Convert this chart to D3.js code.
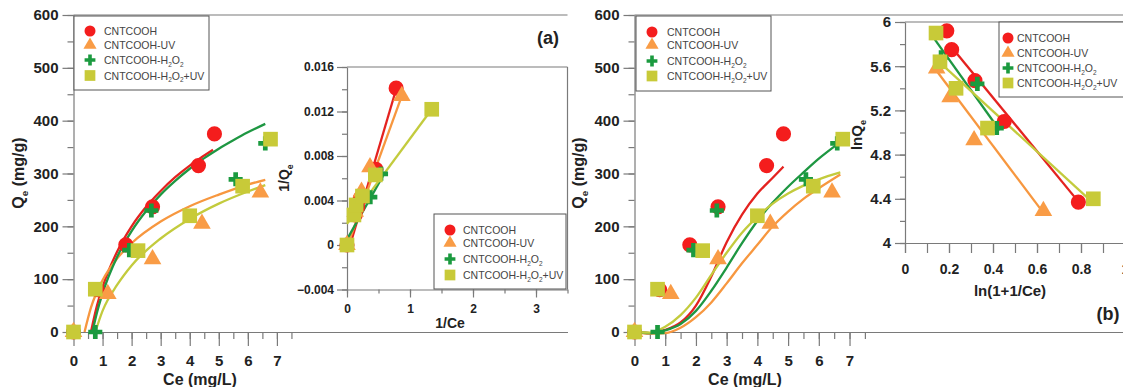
<!DOCTYPE html>
<html>
<head>
<meta charset="utf-8">
<script src="https://cdn.jsdelivr.net/npm/d3@7"></script>
<style>
  body { margin: 0; background: #fff; }
  text { font-family: "Liberation Sans", Arial, sans-serif; }
</style>
</head>
<body>
<svg></svg>
<script>
width = 1123;
height = 387;

// measured isotherm points, Ce (mg/L) / Qe (mg/g)
ceCOOH = [0, 0.82, 1.8, 2.72, 4.3, 4.85];
qeCOOH = [0, 80, 165, 237, 315, 375];
ceUV = [0, 1.18, 2.72, 4.42, 6.43];
qeUV = [0, 72, 138, 205, 264];
ceH2O2 = [0, 0.75, 1.92, 2.68, 5.58, 6.6];
qeH2O2 = [0, 0, 155, 230, 289, 357];
ceH2O2UV = [0, 0.75, 2.22, 4.0, 5.82, 6.78];
qeH2O2UV = [0, 81, 154, 220, 276, 365];

// fitted curves in (a)
fitACe = [
  [0.6, 0.8, 1, 1.5, 2, 2.5, 3, 3.5, 4, 4.5, 4.8],
  [0.38, 0.6, 1, 1.5, 2, 3, 4, 5, 6, 6.6],
  [0.65, 0.8, 1, 1.5, 2, 2.5, 3, 3.5, 4, 4.5, 5, 5.5, 6, 6.6],
  [0.75, 1, 1.5, 2, 3, 4, 5, 6, 6.6]
];
fitAQe = [
  [0, 48, 85, 152, 200, 237, 267, 293, 315, 334, 345],
  [0, 46, 98, 139, 168, 209, 238, 260, 279, 288],
  [0, 35, 73, 142, 191, 229, 260, 286, 309, 329, 347, 363, 378, 394],
  [0, 40, 89, 126, 177, 214, 243, 266, 278]
];

// fitted curves in (b)
fitBCe = [
  [0, 0.5, 1, 1.5, 2, 2.5, 3, 3.5, 4, 4.5, 4.85],
  [0, 0.5, 1, 1.5, 2, 2.5, 3, 3.5, 4, 4.5, 5, 5.5, 6, 6.7],
  [0, 0.5, 1, 1.5, 2, 2.5, 3, 3.5, 4, 4.5, 5, 5.5, 6, 6.6],
  [0, 0.5, 1, 1.5, 2, 2.5, 3, 3.5, 4, 4.5, 5, 5.5, 6, 6.7]
];
fitBQe = [
  [0, -2, 4, 18, 50, 105, 170, 222, 262, 292, 313],
  [0, -3, -2, 8, 28, 56, 92, 130, 165, 200, 228, 252, 272, 298],
  [0, -2, 3, 15, 40, 78, 122, 168, 210, 245, 275, 302, 328, 355],
  [0, -1, 10, 32, 65, 108, 150, 188, 218, 243, 262, 277, 289, 302]
];

// inset (a): 1/Ce vs 1/Qe
invCe = [
  [0, 0.13, 0.17, 0.21, 0.46, 0.78],
  [0, 0.13, 0.23, 0.365, 0.87],
  [0, 0.15, 0.37, 0.54],
  [0, 0.11, 0.145, 0.245, 0.45, 1.345]
];
invQe = [
  [0, 0.0027, 0.0034, 0.0042, 0.0068, 0.0141],
  [0, 0.0030, 0.0048, 0.0070, 0.0134],
  [0, 0.0035, 0.0043, 0.0064],
  [0, 0.0027, 0.0036, 0.0044, 0.0063, 0.0122]
];
invLineCe = [[0.05, 0.78], [0.03, 0.87], [0, 0.6], [0, 1.345]];
invLineQe = [[0, 0.0140], [0.0003, 0.0134], [0.0005, 0.0065], [0.0019, 0.0122]];

// inset (b): ln(1+1/Ce) vs lnQe
lnX = [
  [0.19, 0.212, 0.318, 0.451, 0.788],
  [0.144, 0.205, 0.314, 0.629],
  [0.164, 0.329, 0.417],
  [0.141, 0.159, 0.232, 0.375, 0.856]
];
lnY = [
  [5.92, 5.75, 5.47, 5.10, 4.37],
  [5.58, 5.32, 4.93, 4.29],
  [5.68, 5.44, 5.04],
  [5.90, 5.64, 5.40, 5.04, 4.40]
];
lnLineX = [[0.2, 0.79], [0.128, 0.63], [0.136, 0.43], [0.144, 0.84]];
lnLineY = [[5.80, 4.37], [5.60, 4.27], [5.84, 5.02], [5.66, 4.39]];

// legend labels: [text, subscript?]
names = [
  [['CNTCOOH', 0]],
  [['CNTCOOH-UV', 0]],
  [['CNTCOOH-H', 0], ['2', 1], ['O', 0], ['2', 1]],
  [['CNTCOOH-H', 0], ['2', 1], ['O', 0], ['2', 1], ['+UV', 0]]
];

symbols = [d3.symbolCircle, d3.symbolTriangle, d3.symbolCross, d3.symbolSquare];
fills = ['#f41d1d', '#f99c46', '#1b9a3f', '#c8ca38'];
strokes = ['#e4221f', '#f7973f', '#1e9742', '#c3cb3d'];
markSize = [180, 135, 110, 215];
legSize = [95, 75, 65, 115];

svg = d3.select('svg').attr('width', width).attr('height', height);

function pairs(xs, ys) { return xs.map((v, i) => [v, ys[i]]); }

function styleAxis(g, fs) {
  g.select('.domain').attr('stroke', '#7a7a7a').attr('stroke-width', 1.2);
  g.selectAll('.tick line').attr('stroke', '#7a7a7a').attr('stroke-width', 1.2);
  g.selectAll('text').attr('font-size', fs).attr('font-weight', 'bold').attr('fill', '#222');
}

function addAxis(gen, scale, major, minor, fmt, bigLen, smallLen, pad, fs, tr) {
  g1 = svg.append('g').attr('transform', tr)
    .call(gen(scale).tickValues(minor).tickSize(smallLen).tickSizeOuter(0).tickFormat(''));
  styleAxis(g1, fs);
  g2 = svg.append('g').attr('transform', tr)
    .call(gen(scale).tickValues(major).tickSize(bigLen).tickSizeOuter(0).tickPadding(pad).tickFormat(fmt));
  styleAxis(g2, fs);
  g2.select('.domain').remove();
}

function subText(sel, parts, fs) {
  parts.forEach((p, i) => {
    t = sel.append('tspan').text(p[0]);
    if (p[1]) t.attr('font-size', fs * 0.62).attr('dy', fs * 0.25);
    else if (i > 0 && parts[i - 1][1]) t.attr('dy', -fs * 0.25);
  });
}

function drawMarks(x, y, xs, ys) {
  [0, 1, 2, 3].forEach(k => {
    svg.append('g').selectAll('path')
      .data(pairs(xs[k], ys[k]))
      .enter().append('path')
      .attr('transform', d => `translate(${x(d[0])},${y(d[1])})`)
      .attr('d', d3.symbol().type(symbols[k]).size(markSize[k]))
      .attr('fill', fills[k]);
  });
}

function drawCurves(x, y, xs, ys, curve) {
  line = d3.line().x(d => x(d[0])).y(d => y(d[1])).curve(curve);
  [0, 1, 2, 3].forEach(k => {
    svg.append('path')
      .attr('d', line(pairs(xs[k], ys[k])))
      .attr('fill', 'none')
      .attr('stroke', strokes[k])
      .attr('stroke-width', 2.3);
  });
}

function drawLegend(x0, y0, w, h, sx, tx, rows) {
  svg.append('rect').attr('x', x0).attr('y', y0).attr('width', w).attr('height', h)
    .attr('fill', '#fff').attr('stroke', '#555').attr('stroke-width', 1);
  rows.forEach((ry, k) => {
    svg.append('path')
      .attr('transform', `translate(${sx},${ry})`)
      .attr('d', d3.symbol().type(symbols[k]).size(legSize[k]))
      .attr('fill', fills[k]);
    t = svg.append('text').attr('x', tx).attr('y', ry + 4)
      .attr('font-size', 10.5).attr('fill', '#444');
    subText(t, names[k], 10.5);
  });
}

function frameLine(x1, y1, x2, y2) {
  svg.append('line').attr('x1', x1).attr('y1', y1).attr('x2', x2).attr('y2', y2)
    .attr('stroke', '#7a7a7a').attr('stroke-width', 1.2);
}

function title(x, y, parts, fs, rot) {
  t = svg.append('text').attr('font-size', fs).attr('font-weight', 'bold').attr('fill', '#222')
    .attr('text-anchor', 'middle')
    .attr('transform', `translate(${x},${y})` + (rot ? ' rotate(-90)' : ''));
  subText(t, parts, fs);
}

// ---------- panel (a) ----------
xA = d3.scaleLinear().domain([0, 17]).range([73.5, 567.5]);
yA = d3.scaleLinear().domain([0, 600]).range([332, 15]);

frameLine(73.5, 15, 567.5, 15);
addAxis(d3.axisBottom, xA, d3.range(0, 8), d3.range(0, 8, 0.5), d3.format('d'), 14, 7, 9, 15, 'translate(0,332)');
addAxis(d3.axisLeft, yA, d3.range(0, 601, 100), d3.range(0, 601, 50), d3.format('d'), 11, 6, 4, 15, 'translate(73.5,0)');
title(200, 385, [['Ce (mg/L)', 0]], 16, false);
title(24, 173, [['Q', 0], ['e', 1], [' (mg/g)', 0]], 16, true);

drawCurves(xA, yA, fitACe, fitAQe, d3.curveMonotoneX);
drawMarks(xA, yA, [ceCOOH, ceUV, ceH2O2, ceH2O2UV], [qeCOOH, qeUV, qeH2O2, qeH2O2UV]);
drawLegend(74, 16, 135, 74, 90, 104, [31, 45, 60, 75.5]);

svg.append('text').attr('x', 548).attr('y', 44).attr('text-anchor', 'middle')
  .attr('font-size', 18).attr('font-weight', 'bold').attr('fill', '#222').text('(a)');

// inset (a)
xI = d3.scaleLinear().domain([0, 3.5]).range([347, 567.5]);
yI = d3.scaleLinear().domain([-0.004, 0.016]).range([289.5, 67]);
frameLine(347, 67, 567.5, 67);
frameLine(567.5, 67, 567.5, 289.5);
addAxis(d3.axisBottom, xI, d3.range(0, 4), d3.range(0, 3.6, 0.5), d3.format('d'), 8, 4, 7, 12, 'translate(0,289.5)');
addAxis(d3.axisLeft, yI, d3.range(-0.004, 0.0161, 0.004), d3.range(-0.004, 0.0161, 0.002),
  d => Math.abs(d) < 1e-9 ? '0' : d3.format('.3f')(d), 10, 5, 3, 12, 'translate(347,0)');
title(450, 328, [['1/Ce', 0]], 14, false);
title(289, 178, [['1/Q', 0], ['e', 1]], 14, true);

drawCurves(xI, yI, invLineCe, invLineQe, d3.curveLinear);
drawMarks(xI, yI, invCe, invQe);
drawLegend(434, 214, 132, 75, 450, 463, [230, 243, 259, 275]);

// ---------- panel (b) ----------
xB = d3.scaleLinear().domain([0, 16]).range([634.5, 1126]);
yB = d3.scaleLinear().domain([0, 600]).range([332, 15]);

frameLine(634.5, 15, 1123, 15);
addAxis(d3.axisBottom, xB, d3.range(0, 8), d3.range(0, 8, 0.5), d3.format('d'), 14, 7, 9, 15, 'translate(0,332)');
addAxis(d3.axisLeft, yB, d3.range(0, 601, 100), d3.range(0, 601, 50), d3.format('d'), 11, 6, 4, 15, 'translate(634.5,0)');
title(745, 385, [['Ce (mg/L)', 0]], 16, false);
title(584, 173, [['Q', 0], ['e', 1], [' (mg/g)', 0]], 16, true);

drawCurves(xB, yB, fitBCe, fitBQe, d3.curveMonotoneX);
drawMarks(xB, yB, [ceCOOH, ceUV, ceH2O2, ceH2O2UV], [qeCOOH, qeUV, qeH2O2, qeH2O2UV]);
drawLegend(636, 16, 135, 75, 652, 667, [32, 45, 61, 76]);

// inset (b)
xL = d3.scaleLinear().domain([0, 1.1]).range([905, 1147]);
yL = d3.scaleLinear().domain([4, 6]).range([243, 22]);
svg.append('rect').attr('x', 905).attr('y', 22).attr('width', 230).attr('height', 221).attr('fill', '#fff');
frameLine(905, 22, 1123, 22);
addAxis(d3.axisBottom, xL, d3.range(0, 1.01, 0.2), d3.range(0, 1.05, 0.1), d => d === 0 ? '0' : d3.format('.1~f')(d), 10, 10, 11, 14, 'translate(0,243)');
addAxis(d3.axisLeft, yL, d3.range(4, 6.01, 0.4), d3.range(4, 6.01, 0.2), d3.format('~g'), 10, 5, 4, 15, 'translate(905,0)');
title(1010, 296, [['ln(1+1/Ce)', 0]], 15, false);
title(862, 135, [['lnQ', 0], ['e', 1]], 15, true);

drawCurves(xL, yL, lnLineX, lnLineY, d3.curveLinear);
drawMarks(xL, yL, lnX, lnY);
drawLegend(999, 22, 140, 75, 1008, 1017, [38, 53, 68, 83]);

svg.append('text').attr('x', 1108).attr('y', 320).attr('text-anchor', 'middle')
  .attr('font-size', 18).attr('font-weight', 'bold').attr('fill', '#222').text('(b)');
</script>
</body>
</html>
